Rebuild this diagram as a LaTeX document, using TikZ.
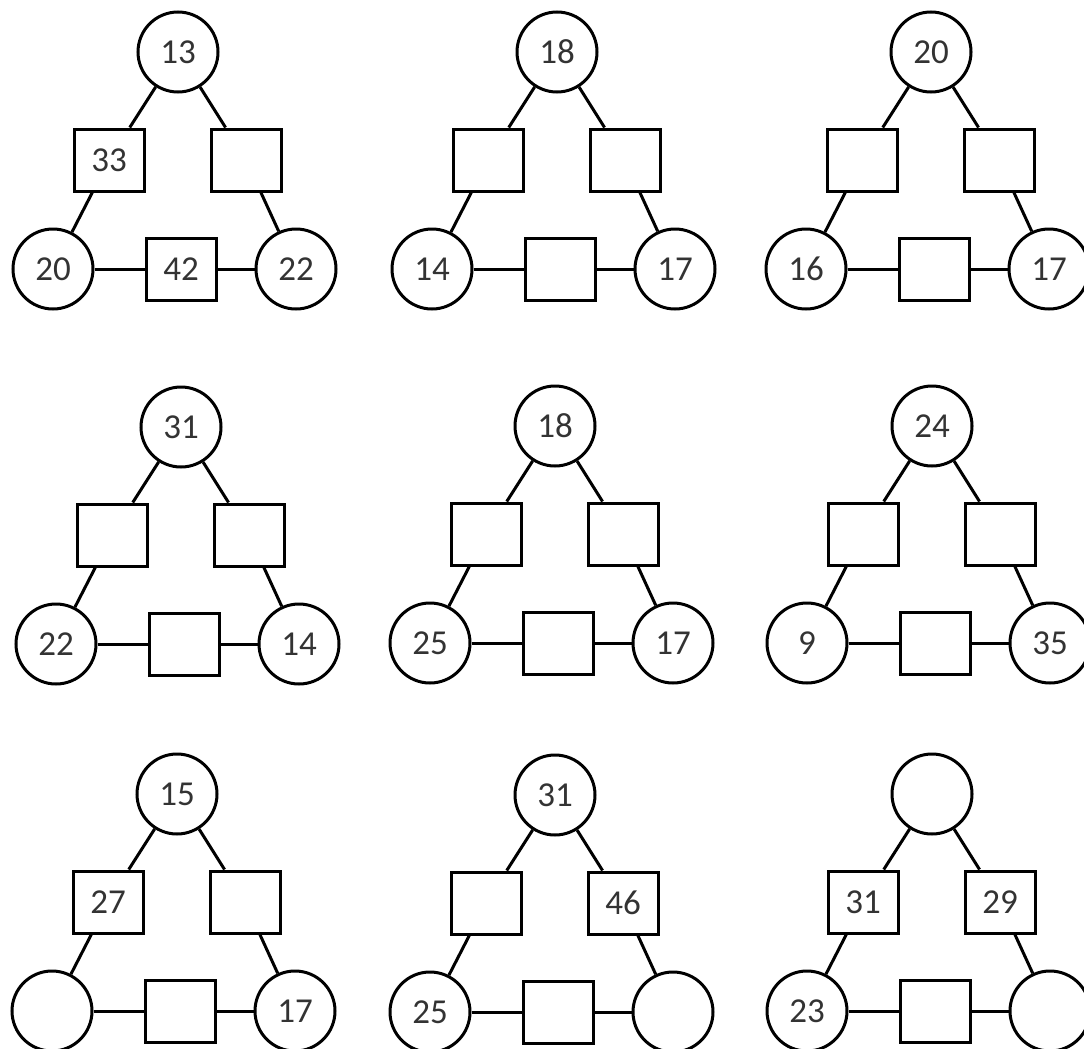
\documentclass[tikz,border=0pt]{standalone}
\usepackage{fontspec}
\setmainfont{Carlito}
\begin{document}
\begin{tikzpicture}
                [x=1pt, y=-1pt,
                roundnode/.style={circle, draw=black, fill=white, line width=3pt, minimum size=80pt, inner sep=0pt, text=black!80, font=\fontsize{35}{42}\selectfont},
                squarenode/.style={rectangle, draw=black, fill=white, line width=3pt, minimum width=70pt, minimum height=62pt, inner sep=0pt, text=black!80, font=\fontsize{35}{42}\selectfont},
                link/.style={draw=black, line width=3pt},]

                \useasboundingbox (0,0) rectangle (1084,1049);

                % x/y/name/top/bottom left/bottom right/left box/right box/bottom box
                \foreach \px/\py/\n/\ta/\tb/\tc/\sa/\sb/\sc in {
                    178/52/p1/13/20/22/33/{}/42,
                    557/52/p2/18/14/17/{}/{}/{},
                    931/52/p3/20/16/17/{}/{}/{},
                    181/427/p4/31/22/14/{}/{}/{},
                    555/426/p5/18/25/17/{}/{}/{},
                    932/426/p6/24/9/35/{}/{}/{},
                    177/794/p7/15/{}/17/27/{}/{},
                    555/795/p8/31/25/{}/{}/46/{},
                    932/794/p9/{}/23/{}/31/29/{}}
                {
                \begin{scope}[shift={(\px,\py)}]
                \node[roundnode] (\n-t) at (0,0) {\ta};
                \node[squarenode] (\n-l) at (-69,108) {\sa};
                \node[squarenode] (\n-r) at (68,108) {\sb};
                \node[roundnode] (\n-bl) at (-125,217) {\tb};
                \node[squarenode] (\n-b) at (3,217) {\sc};
                \node[roundnode] (\n-br) at (118,217) {\tc};

                \draw[link] (\n-t) -- (\n-l);
                \draw[link] (\n-l) -- (\n-bl);
                \draw[link] (\n-bl) -- (\n-b);
                \draw[link] (\n-b) -- (\n-br);
                \draw[link] (\n-br) -- (\n-r);
                \draw[link] (\n-r) -- (\n-t);
                \end{scope}
                }

            \end{tikzpicture}
\end{document}
